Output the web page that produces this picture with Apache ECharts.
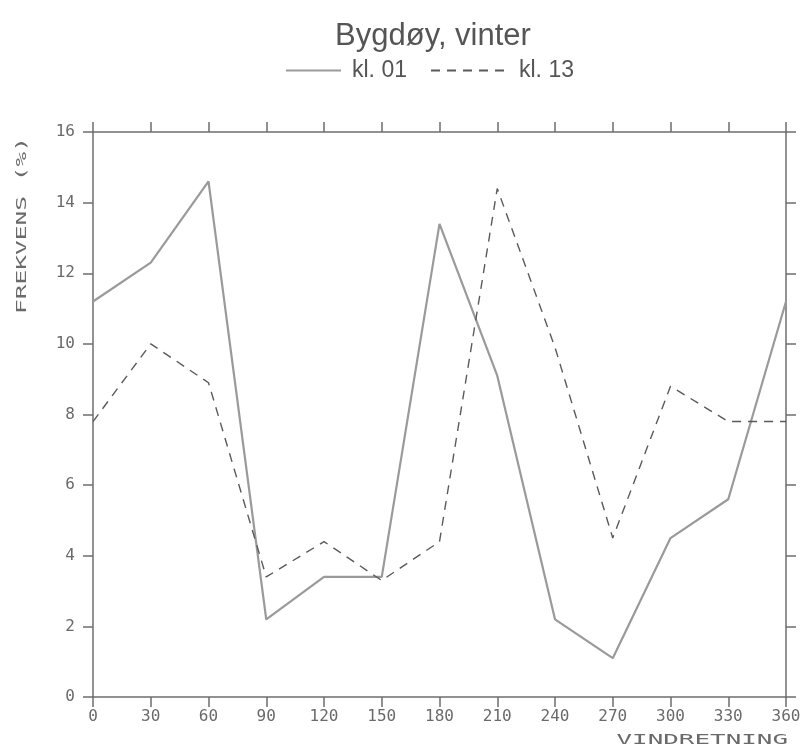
<!DOCTYPE html>
<html>
<head>
<meta charset="utf-8">
<script src="https://cdn.jsdelivr.net/npm/echarts@6/dist/echarts.min.js"></script>
<style>html,body{margin:0;padding:0;background:#fff}#c{width:808px;height:756px}</style>
</head>
<body>
<div id="c"></div>
<script>
const directions = [0, 30, 60, 90, 120, 150, 180, 210, 240, 270, 300, 330, 360];
const kl01 = [11.2, 12.3, 14.6, 2.2, 3.4, 3.4, 13.4, 9.1, 2.2, 1.1, 4.5, 5.6, 11.2];
const kl13 = [7.8, 10.0, 8.9, 3.4, 4.4, 3.3, 4.4, 14.4, 9.9, 4.5, 8.8, 7.8, 7.8];
const yTicks = [0, 2, 4, 6, 8, 10, 12, 14, 16];
const title = 'Bygdøy, vinter';
const seriesNames = ['kl. 01', 'kl. 13'];

const axisColor = '#6e6e6e';
const labelFont = {fontFamily: 'DejaVu Sans Mono', fontSize: 16, color: '#6a6a6a'};

const chart = echarts.init(document.getElementById('c'), null, {renderer: 'canvas'});
function axisBase() {
  return {
    type: 'value',
    axisLine: {show: true, onZero: false, lineStyle: {color: axisColor, width: 1.5}},
    axisTick: {show: true, inside: false, length: 10, lineStyle: {color: axisColor, width: 1.5}},
    splitLine: {show: false}
  };
}
chart.setOption({
  animation: false,
  backgroundColor: '#fff',
  title: {
    text: title, left: 428, top: 16, textAlign: 'center',
    textStyle: {fontFamily: 'Liberation Sans', fontWeight: 'normal', fontSize: 31, color: '#555'}
  },
  legend: [
    {data: [seriesNames[0]], left: 280, top: 54, itemWidth: 55, itemHeight: 14,
     itemStyle: {opacity: 0},
     textStyle: {fontFamily: 'Liberation Sans', fontSize: 23, color: '#555', padding: [0, 0, 0, 6]}},
    {data: [seriesNames[1]], left: 425, top: 54, itemWidth: 75, itemHeight: 14,
     itemStyle: {opacity: 0},
     textStyle: {fontFamily: 'Liberation Sans', fontSize: 23, color: '#555', padding: [0, 0, 0, 8]}}
  ],
  grid: {left: 93, right: 22, top: 132, bottom: 59, containLabel: false},
  xAxis: [
    Object.assign(axisBase(), {
      position: 'bottom', min: 0, max: 360, interval: 30,
      axisLabel: Object.assign({margin: 12, formatter: v => String(v)}, labelFont)
    }),
    Object.assign(axisBase(), {
      position: 'top', min: 0, max: 360, interval: 30, axisLabel: {show: false}
    })
  ],
  yAxis: [
    Object.assign(axisBase(), {
      position: 'left', min: yTicks[0], max: yTicks[yTicks.length - 1], interval: 2,
      axisLabel: Object.assign({margin: 18}, labelFont)
    }),
    Object.assign(axisBase(), {
      position: 'right', min: yTicks[0], max: yTicks[yTicks.length - 1], interval: 2,
      axisLabel: {show: false}
    })
  ],
  graphic: [
    {type: 'text', x: 15, y: 137, rotation: Math.PI / 2, scaleX: 1.75, scaleY: 1,
     style: {text: 'FREKVENS (%)', fontFamily: 'DejaVu Sans Mono', fontSize: 14, fill: '#6a6a6a',
             align: 'right', verticalAlign: 'top'}},
    {type: 'text', x: 788, y: 733, scaleX: 1.85, scaleY: 1,
     style: {text: 'VINDRETNING', fontFamily: 'DejaVu Sans Mono', fontSize: 14, fill: '#6a6a6a',
             align: 'right', verticalAlign: 'top'}}
  ],
  series: [
    {name: seriesNames[0], type: 'line', xAxisIndex: 0, yAxisIndex: 0, symbol: 'none',
     lineStyle: {color: '#9a9a9a', width: 2.2, type: 'solid'}, itemStyle: {color: '#9a9a9a'},
     data: directions.map((d, i) => [d, kl01[i]])},
    {name: seriesNames[1], type: 'line', xAxisIndex: 0, yAxisIndex: 0, symbol: 'none',
     lineStyle: {color: '#5a5a5a', width: 1.4, type: [9, 7]}, itemStyle: {color: '#5a5a5a'},
     data: directions.map((d, i) => [d, kl13[i]])}
  ]
});
</script>
</body>
</html>
